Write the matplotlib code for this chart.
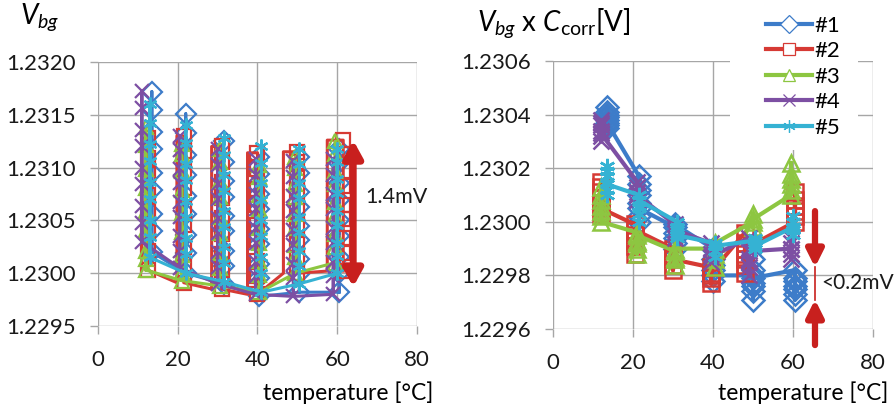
import matplotlib
matplotlib.use('Agg')
import matplotlib.pyplot as plt
from matplotlib.ticker import FormatStrFormatter, MultipleLocator
from matplotlib.patches import Rectangle

plt.rcParams['font.family'] = ['Lato', 'DejaVu Sans']
plt.rcParams['mathtext.fontset'] = 'custom'
plt.rcParams['mathtext.rm'] = 'Lato'
plt.rcParams['mathtext.it'] = 'Lato:italic'

labels = ['#1', '#2', '#3', '#4', '#5']
colors = ['#3D7CC9', '#D63A34', '#8DC641', '#7D4FA3', '#35B2D3']
markers = ['D', 's', '^', 'x', (6, 2, 0)]

# ---- left chart: Vbg, stacks of readings at each temperature ----
left_x = [
    [13.5, 22.0, 31.5, 40.5, 50.5, 60.5],
    [12.5, 21.5, 31.0, 40.0, 50.0, 61.5],
    [12.0, 21.0, 30.5, 40.5, 49.5, 59.5],
    [11.0, 20.5, 30.0, 39.5, 49.0, 59.0],
    [13.0, 22.0, 31.5, 41.0, 50.5, 60.0],
]
# where the line climbs before reaching the stack (only #2 is off the stack)
left_ramp_x = [
    [13.5, 22.0, 31.5, 40.5, 50.5, 60.5],
    [11.0, 19.8, 28.5, 37.5, 46.5, 57.5],
    [12.0, 21.0, 30.5, 40.5, 49.5, 59.5],
    [11.0, 20.5, 30.0, 39.5, 49.0, 59.0],
    [13.0, 22.0, 31.5, 41.0, 50.5, 60.0],
]
vbg_1 = [
    [1.23020, 1.23040, 1.23056, 1.23079, 1.23095, 1.23118, 1.23134, 1.23155, 1.23172],
    [1.23000, 1.23019, 1.23036, 1.23056, 1.23073, 1.23093, 1.23112, 1.23133, 1.23151],
    [1.22990, 1.23007, 1.23021, 1.23040, 1.23054, 1.23072, 1.23087, 1.23105, 1.23125],
    [1.22978, 1.22995, 1.23009, 1.23028, 1.23042, 1.23061, 1.23075, 1.23094, 1.23110],
    [1.22982, 1.22999, 1.23013, 1.23031, 1.23045, 1.23063, 1.23077, 1.23095, 1.23110],
    [1.22982, 1.23000, 1.23015, 1.23035, 1.23050, 1.23069, 1.23085, 1.23104, 1.23118],
]
vbg_2 = [
    [1.23003, 1.23021, 1.23039, 1.23059, 1.23074, 1.23094, 1.23109, 1.23128],
    [1.22991, 1.23009, 1.23025, 1.23046, 1.23061, 1.23081, 1.23097, 1.23116, 1.23130],
    [1.22985, 1.23003, 1.23018, 1.23037, 1.23052, 1.23071, 1.23086, 1.23105, 1.23120],
    [1.22980, 1.22997, 1.23012, 1.23031, 1.23046, 1.23065, 1.23080, 1.23099, 1.23114],
    [1.23000, 1.23014, 1.23028, 1.23045, 1.23059, 1.23077, 1.23090, 1.23105, 1.23115],
    [1.23002, 1.23019, 1.23033, 1.23051, 1.23065, 1.23083, 1.23097, 1.23113, 1.23126],
]
vbg_3 = [
    [1.23003, 1.23013, 1.23021, 1.23041, 1.23059, 1.23081, 1.23099, 1.23121, 1.23138],
    [1.22993, 1.23001, 1.23017, 1.23039, 1.23057, 1.23079, 1.23097, 1.23113, 1.23122],
    [1.22988, 1.23005, 1.23019, 1.23038, 1.23053, 1.23072, 1.23087, 1.23105, 1.23118],
    [1.22982, 1.22998, 1.23012, 1.23029, 1.23043, 1.23061, 1.23074, 1.23091, 1.23102],
    [1.23000, 1.23015, 1.23027, 1.23043, 1.23056, 1.23072, 1.23084, 1.23100, 1.23110],
    [1.23010, 1.23025, 1.23037, 1.23054, 1.23067, 1.23084, 1.23097, 1.23113, 1.23125],
]
vbg_4 = [
    [1.23030, 1.23048, 1.23064, 1.23084, 1.23100, 1.23120, 1.23136, 1.23156, 1.23173],
    [1.23005, 1.23021, 1.23035, 1.23053, 1.23067, 1.23085, 1.23099, 1.23117, 1.23130],
    [1.22990, 1.23006, 1.23020, 1.23038, 1.23052, 1.23070, 1.23084, 1.23102, 1.23118],
    [1.22980, 1.22997, 1.23011, 1.23029, 1.23043, 1.23061, 1.23075, 1.23093, 1.23108],
    [1.22978, 1.22995, 1.23009, 1.23027, 1.23041, 1.23059, 1.23073, 1.23091, 1.23106],
    [1.22980, 1.22997, 1.23011, 1.23029, 1.23043, 1.23061, 1.23075, 1.23093, 1.23108],
]
vbg_5 = [
    [1.23015, 1.23034, 1.23050, 1.23070, 1.23086, 1.23106, 1.23122, 1.23142, 1.23160],
    [1.23000, 1.23018, 1.23033, 1.23053, 1.23068, 1.23088, 1.23103, 1.23123, 1.23140],
    [1.22992, 1.23010, 1.23025, 1.23044, 1.23059, 1.23078, 1.23093, 1.23112, 1.23128],
    [1.22982, 1.23000, 1.23015, 1.23035, 1.23050, 1.23069, 1.23085, 1.23104, 1.23120],
    [1.22990, 1.23007, 1.23021, 1.23039, 1.23053, 1.23071, 1.23085, 1.23103, 1.23118],
    [1.23000, 1.23016, 1.23029, 1.23046, 1.23059, 1.23076, 1.23089, 1.23105, 1.23118],
]
left_vbg = [vbg_1, vbg_2, vbg_3, vbg_4, vbg_5]

# ---- right chart: Vbg x Ccorr, clusters at each temperature ----
right_x = [
    [13.5, 21.5, 30.5, 40.0, 50.0, 60.5],
    [12.0, 20.5, 30.0, 39.5, 48.0, 60.5],
    [12.0, 21.0, 30.5, 40.5, 50.0, 59.5],
    [12.0, 21.0, 30.5, 39.5, 49.0, 59.5],
    [13.5, 21.5, 31.0, 40.5, 50.5, 60.0],
]
corr_1 = [
    [1.23036, 1.23040, 1.23043, 1.23038, 1.23041, 1.23035, 1.23039, 1.23037],
    [1.23017, 1.23012, 1.23007, 1.23002, 1.23000, 1.23010, 1.23014, 1.23005],
    [1.22998, 1.22994, 1.22990, 1.22996, 1.22992, 1.22999],
    [1.22990, 1.22986, 1.22982, 1.22978, 1.22984, 1.22980],
    [1.22980, 1.22986, 1.22982, 1.22977, 1.22974, 1.22971, 1.22976, 1.22979],
    [1.22982, 1.22979, 1.22976, 1.22973, 1.22971, 1.22975, 1.22978],
]
corr_2 = [
    [1.23015, 1.23011, 1.23007, 1.23003, 1.23009, 1.23013, 1.23005],
    [1.22999, 1.22995, 1.22991, 1.22988, 1.22993, 1.22997],
    [1.22990, 1.22987, 1.22984, 1.22982, 1.22986],
    [1.22983, 1.22980, 1.22977, 1.22979, 1.22981],
    [1.22996, 1.22992, 1.22988, 1.22984, 1.22981, 1.22986, 1.22990],
    [1.23000, 1.23004, 1.23008, 1.23011, 1.23006, 1.23002],
]
corr_3 = [
    [1.23002, 1.23006, 1.23010, 1.23013, 1.23008, 1.23004, 1.23000],
    [1.22996, 1.22993, 1.22990, 1.22988, 1.22992, 1.22995],
    [1.22989, 1.22986, 1.22984, 1.22987, 1.22990],
    [1.22990, 1.22986, 1.22983, 1.22988, 1.22992],
    [1.23000, 1.23003, 1.22998, 1.23001],
    [1.23010, 1.23014, 1.23018, 1.23022, 1.23016, 1.23012],
]
corr_4 = [
    [1.23032, 1.23036, 1.23038, 1.23034, 1.23030, 1.23037, 1.23033],
    [1.23015, 1.23011, 1.23008, 1.23013, 1.23010],
    [1.22999, 1.22996, 1.22994, 1.22997],
    [1.22992, 1.22988, 1.22985, 1.22990, 1.22987],
    [1.22994, 1.22990, 1.22986, 1.22983, 1.22980, 1.22985, 1.22989],
    [1.22990, 1.22994, 1.22988, 1.22992, 1.22986, 1.22990],
]
corr_5 = [
    [1.23015, 1.23019, 1.23021, 1.23012, 1.23010, 1.23017, 1.23014],
    [1.23010, 1.23006, 1.23003, 1.23000, 1.23005, 1.23008],
    [1.23000, 1.22997, 1.22994, 1.22998, 1.22995],
    [1.22992, 1.22989, 1.22987, 1.22991],
    [1.22993, 1.22990, 1.22994, 1.22991],
    [1.22998, 1.23002, 1.22995, 1.23000, 1.22997],
]
right_vbg = [corr_1, corr_2, corr_3, corr_4, corr_5]

fig = plt.figure(figsize=(8.95, 4.11), dpi=100)
ax1 = fig.add_axes([98/895, 1-326/411, 319/895, 264/411])
ax2 = fig.add_axes([553/895, 1-329/411, 320/895, 268/411])

grid_c = '#A6A6A6'
for ax in (ax1, ax2):
    for s in ax.spines.values():
        s.set_visible(False)
    ax.grid(True, color=grid_c, lw=1.0)
    ax.set_axisbelow(True)
    ax.tick_params(axis='both', direction='out', length=6, width=1.0, color=grid_c,
                   labelsize=16, labelcolor='#1a1a1a')
    ax.tick_params(axis='y', pad=10)
    ax.tick_params(axis='x', pad=11)
    ax.set_xlim(0, 80)
    ax.xaxis.set_major_locator(MultipleLocator(20))
    ax.yaxis.set_major_formatter(FormatStrFormatter('%.4f'))

ax1.set_ylim(1.2295, 1.2320)
ax1.yaxis.set_major_locator(MultipleLocator(0.0005))
ax2.set_ylim(1.2296, 1.2306)
ax2.yaxis.set_major_locator(MultipleLocator(0.0002))

# left chart
for i in range(5):
    xs, ys, mx, my = [], [], [], []
    for j in range(6):
        stack = left_vbg[i][j]
        xr = left_ramp_x[i][j]
        xc = left_x[i][j]
        xs += [xr, xr] + [xc] * len(stack)
        ys += [stack[0], stack[-1]] + stack[::-1]
        mx += [xc] * len(stack)
        my += stack
    ax1.plot(xs, ys, color=colors[i], lw=2.2, zorder=3)
    ax1.plot(mx, my, ls='none', marker=markers[i], ms=10, mfc='none',
             mec=colors[i], mew=1.6, zorder=3)

# right chart
for i in range(5):
    xs, ys = [], []
    for j in range(6):
        xs += [right_x[i][j]] * len(right_vbg[i][j])
        ys += right_vbg[i][j]
    ax2.plot(xs, ys, color=colors[i], lw=3.0, marker=markers[i], ms=11,
             mfc='none', mec=colors[i], mew=1.8, zorder=3)

arrow_c = '#C8201E'
ax1.annotate('', xy=(64, 1.23126), xytext=(64, 1.22987),
             arrowprops=dict(arrowstyle='<|-|>,head_length=1.0,head_width=0.55',
                             color=arrow_c, lw=5, shrinkA=0, shrinkB=0),
             annotation_clip=False)
ax1.text(67, 1.23072, '1.4mV', fontsize=15.5, va='center', ha='left', color='#1a1a1a')

ax2.annotate('', xy=(65.5, 1.22983), xytext=(65.5, 1.23004),
             arrowprops=dict(arrowstyle='-|>,head_length=1.0,head_width=0.5',
                             color=arrow_c, lw=4.5, shrinkA=0, shrinkB=0),
             annotation_clip=False)
ax2.annotate('', xy=(65.5, 1.22971), xytext=(65.5, 1.22954),
             arrowprops=dict(arrowstyle='-|>,head_length=1.0,head_width=0.5',
                             color=arrow_c, lw=4.5, shrinkA=0, shrinkB=0),
             annotation_clip=False)
ax2.plot([65.5, 65.5], [1.22983, 1.22971], color=arrow_c, lw=1.2, clip_on=False)
ax2.text(67, 1.22977, '<0.2mV', fontsize=15, va='center', ha='left', color='#1a1a1a')

# titles and axis labels
fig.text(20/895, 1-17/411, r'$V_{bg}$', fontsize=20, va='center', ha='left')
fig.text(477/895, 1-23/411, r'$V_{bg}$ x $C_{\mathrm{corr}}$[V]', fontsize=20,
         va='center', ha='left')
fig.text(433/895, 1-393/411, 'temperature [°C]', fontsize=16.5, ha='right', va='center')
fig.text(888/895, 1-393/411, 'temperature [°C]', fontsize=16.5, ha='right', va='center')

# legend sits on a white block that hides the grid
fig.patches.append(Rectangle((730/895, 1-150/411), 128/895, 150/411,
                             transform=fig.transFigure, facecolor='white',
                             edgecolor='none', zorder=1))
handles = [plt.Line2D([], [], color=colors[i], lw=3.0, marker=markers[i], ms=9,
                      mfc='white', mec=colors[i], mew=0.9) for i in range(5)]
fig.legend(handles, labels, loc='upper left', bbox_to_anchor=(750/895, 1.0),
           frameon=False, fontsize=16, handlelength=2.1, handletextpad=0.1,
           labelspacing=0.25, borderpad=0.2)

fig.savefig('out.png', dpi=100)
